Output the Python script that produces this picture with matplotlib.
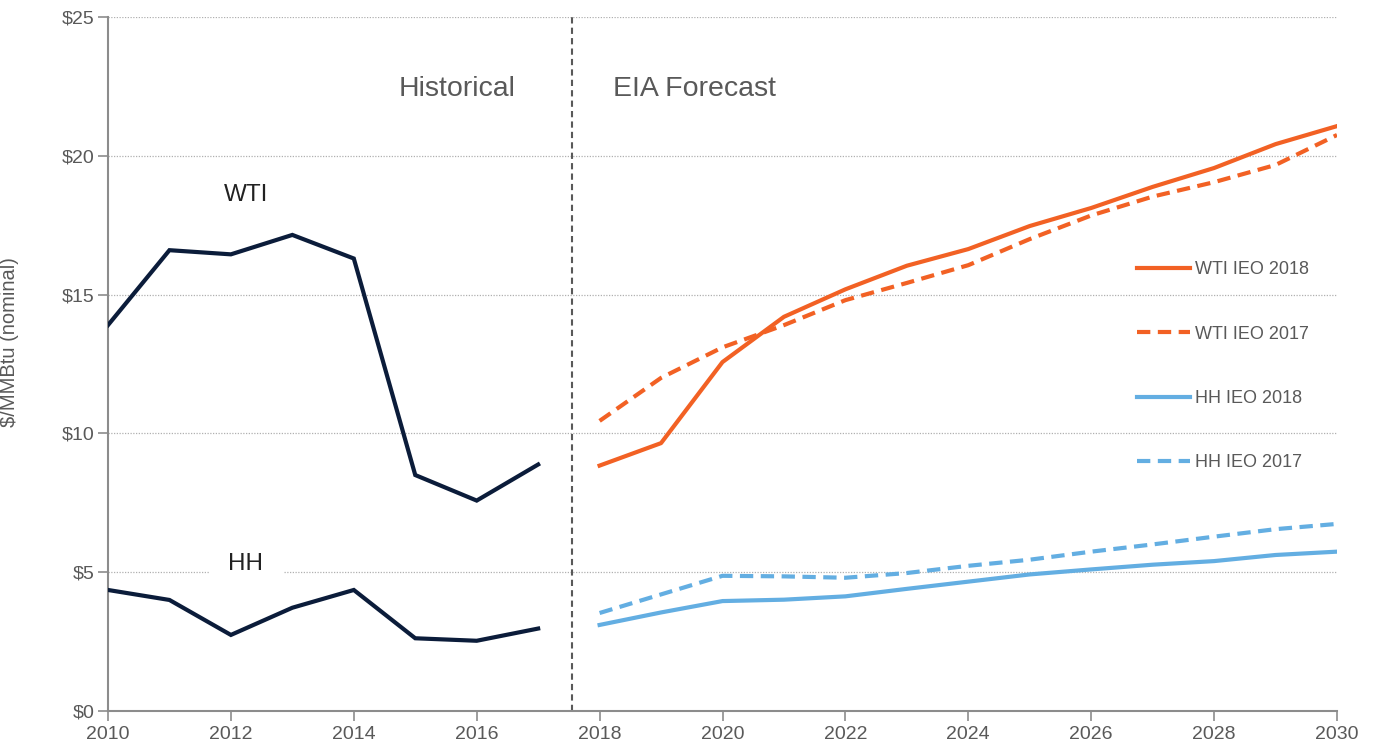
import matplotlib
matplotlib.use("Agg")
import matplotlib.pyplot as plt
from matplotlib.lines import Line2D

plt.rcParams['font.family'] = ['Liberation Sans', 'DejaVu Sans']

hist_years = [2010, 2011, 2012, 2013, 2014, 2015, 2016, 2017]
wti_hist = [13.9, 16.6, 16.45, 17.15, 16.3, 8.5, 7.58, 8.88]
hh_hist = [4.36, 4.0, 2.74, 3.72, 4.36, 2.62, 2.53, 2.97]

fc_years = list(range(2018, 2031))
wti_2018 = [8.84, 9.65, 12.57, 14.2, 15.19, 16.04, 16.64, 17.47, 18.12, 18.88, 19.56, 20.42, 21.07]
wti_2017 = [10.45, 12.0, 13.1, 13.9, 14.8, 15.42, 16.06, 17.0, 17.85, 18.53, 19.05, 19.67, 20.75]
hh_2018 = [3.1, 3.55, 3.96, 4.01, 4.13, 4.4, 4.66, 4.92, 5.1, 5.27, 5.4, 5.62, 5.74]
hh_2017 = [3.53, 4.2, 4.87, 4.85, 4.8, 4.97, 5.23, 5.45, 5.74, 6.0, 6.28, 6.55, 6.74]

y_ticks = [0, 5, 10, 15, 20, 25]
y_labels = ['$0', '$5', '$10', '$15', '$20', '$25']
x_ticks = list(range(2010, 2031, 2))

NAVY = '#0b1c3a'
ORANGE = '#f26124'
BLUE = '#63aee2'
GRAY = '#595959'
SPINE = '#8c8c8c'

fig = plt.figure(figsize=(13.76, 7.51), dpi=100)
ax = fig.add_axes([108/1376, 40/751, (1337-108)/1376, (711-17)/751])

ax.set_xlim(2010, 2030)
ax.set_ylim(0, 25)

for y in y_ticks[1:]:
    ax.axhline(y, color='#b0b0b0', lw=0.9, ls=(0, (1, 1.2)), zorder=1)

ax.plot(hist_years, wti_hist, color=NAVY, lw=3, zorder=3, solid_joinstyle='miter')
ax.plot(hist_years, hh_hist, color=NAVY, lw=3, zorder=3, solid_joinstyle='miter')
ax.plot(fc_years, wti_2018, color=ORANGE, lw=3, zorder=3)
ax.plot(fc_years, wti_2017, color=ORANGE, lw=3, ls=(0, (3.2, 1.8)), zorder=3)
ax.plot(fc_years, hh_2018, color=BLUE, lw=3, zorder=3)
ax.plot(fc_years, hh_2017, color=BLUE, lw=3, ls=(0, (3.2, 1.8)), zorder=3)

ax.axvline(2017.55, color='#595959', lw=1.5, ls=(0, (3, 2)), zorder=2)

ax.set_xticks(x_ticks)
ax.set_xticklabels([str(x) for x in x_ticks])
ax.set_yticks(y_ticks)
ax.set_yticklabels(y_labels)
ax.tick_params(axis='both', colors=SPINE, labelcolor=GRAY, labelsize=14, length=7, width=1.2, direction='out')
ax.tick_params(axis='x', pad=4)
ax.tick_params(axis='y', pad=3)

for s in ['top', 'right']:
    ax.spines[s].set_visible(False)
for s in ['left', 'bottom']:
    ax.spines[s].set_color(SPINE)
    ax.spines[s].set_linewidth(1.5)

ax.set_ylabel('$/MMBtu (nominal)', color=GRAY, fontsize=14.5)
ax.yaxis.set_label_coords((19-108)/1229, (711-342)/694)

ax.text(2015.68, 22.4, 'Historical', color=GRAY, fontsize=20.5, ha='center', va='center')
ax.text(2018.22, 22.4, 'EIA Forecast', color=GRAY, fontsize=20.5, ha='left', va='center')
ax.text(2012.24, 18.6, 'WTI', color='#222222', fontsize=17.5, ha='center', va='center')
ax.text(2012.24, 5.3, 'HH', color='#222222', fontsize=17.5, ha='center', va='center',
        bbox=dict(facecolor='white', edgecolor='none', pad=14), zorder=2)

handles = [
    Line2D([], [], color=ORANGE, lw=3),
    Line2D([], [], color=ORANGE, lw=3, ls=(0, (3.2, 1.8))),
    Line2D([], [], color=BLUE, lw=3),
    Line2D([], [], color=BLUE, lw=3, ls=(0, (3.2, 1.8))),
]
labels = ['WTI IEO 2018', 'WTI IEO 2017', 'HH IEO 2018', 'HH IEO 2017']
leg = ax.legend(handles, labels, loc='upper left', bbox_to_anchor=(1130/1376, (751-254)/751),
                bbox_transform=fig.transFigure, frameon=False, fontsize=13,
                handlelength=2.95, handletextpad=0.25, labelspacing=2.62, borderaxespad=0)
for t in leg.get_texts():
    t.set_color(GRAY)

fig.savefig('out.png', dpi=100)
